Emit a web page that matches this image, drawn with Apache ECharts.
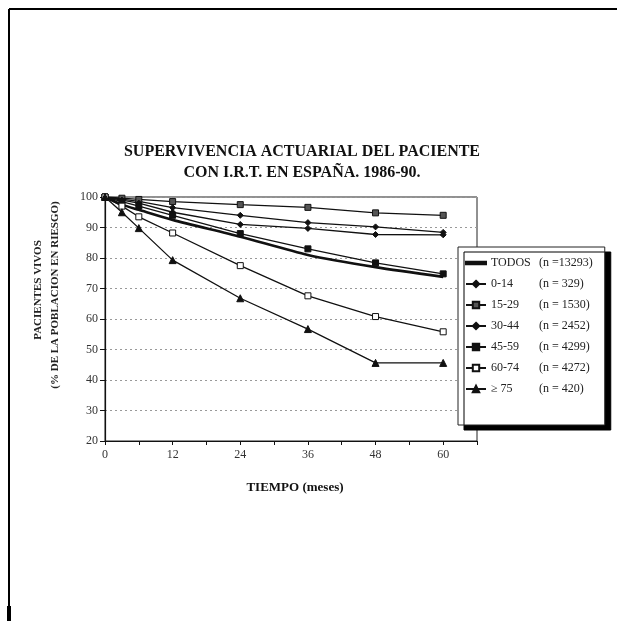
<!DOCTYPE html>
<html>
<head>
<meta charset="utf-8">
<script src="https://cdn.jsdelivr.net/npm/echarts@6/dist/echarts.min.js"></script>
<style>
html,body{margin:0;padding:0;background:#fff;}
#c{width:617px;height:621px;}
</style>
</head>
<body>
<div id="c"></div>
<script>
// ---- data ----
var months = [0, 3, 6, 12, 24, 36, 48, 60];
var todos   = [100, 97.5, 95.8, 92.5, 87.0, 81.0, 77.0, 73.8];
var g0_14   = [100, 99.3, 98.6, 96.5, 94.0, 91.6, 90.2, 88.4];
var g15_29  = [100, 99.6, 99.2, 98.5, 97.5, 96.6, 94.8, 94.0];
var g30_44  = [100, 99.0, 98.0, 95.0, 91.0, 89.7, 87.7, 87.6];
var g45_59  = [100, 98.5, 97.0, 94.0, 88.0, 83.0, 78.4, 74.8];
var g60_74  = [100, 97.0, 93.5, 88.2, 77.5, 67.6, 60.8, 55.8];
var g75     = [100, 95.0, 89.8, 79.3, 66.8, 56.7, 45.6, 45.6];
var seriesNames = ['TODOS', '0-14', '15-29', '30-44', '45-59', '60-74', '\u2265 75'];
var seriesN = ['(n =13293)', '(n = 329)', '(n = 1530)', '(n = 2452)', '(n = 4299)', '(n = 4272)', '(n = 420)'];
var xTickLabels = [0, 12, 24, 36, 48, 60];
var yMin = 20, yMax = 100, yStep = 10;
var titleLines = ['SUPERVIVENCIA ACTUARIAL DEL PACIENTE', 'CON I.R.T. EN ESPAÑA. 1986-90.'];
var yNameLines = ['PACIENTES VIVOS', '(% DE LA POBLACION EN RIESGO)'];
var xName = 'TIEMPO (meses)';

function pairs(vals){ return months.map(function(m,i){ return [m, vals[i]]; }); }

var SERIF = 'Liberation Serif, Times New Roman, serif';
var chart = echarts.init(document.getElementById('c'), null, {renderer:'canvas'});

var nMap = {};
seriesNames.forEach(function(n,i){ nMap[n] = seriesN[i]; });

function lineSeries(name, vals, symbol, fill, lw, smooth){
  return {
    name: name, type: 'line', data: pairs(vals),
    symbol: symbol, symbolSize: symbol === 'none' ? 0 : (symbol==='triangle'?7:6),
    showSymbol: symbol !== 'none',
    smooth: smooth || false,
    lineStyle: {color: '#111', width: lw},
    itemStyle: {color: fill, borderColor: '#111', borderWidth: 1},
    emphasis: {disabled: true},
    z: 3
  };
}

var legendData = seriesNames.map(function(n, i){
  return i === 0 ? {name: n, icon: 'path://M0,0H20V2.6H0Z'} : {name: n};
});

var option = {
  animation: false,
  backgroundColor: '#fff',
  title: [
    {text: titleLines[0] + '\n' + titleLines[1], left: 297, top: 136, textAlign: 'center',
     textStyle: {fontFamily: SERIF, fontSize: 16, fontWeight: 'bold', color: '#111', lineHeight: 21}}
  ],
  grid: {left: 105, right: 140, top: 197, bottom: 180, show: true, borderColor: '#222', borderWidth: 1, backgroundColor: 'transparent'},
  xAxis: {
    type: 'value', min: 0, max: 66, interval: 6,
    axisLine: {show: true, lineStyle: {color: '#111', width: 1.2}},
    axisTick: {show: true, length: 4, lineStyle: {color: '#111'}},
    axisLabel: {
      fontFamily: SERIF, fontSize: 12, color: '#333', margin: 8,
      formatter: function(v){ return xTickLabels.indexOf(v) >= 0 ? String(v) : ''; }
    },
    splitLine: {show: false},
    name: xName, nameLocation: 'middle', nameGap: 40,
    nameTextStyle: {fontFamily: SERIF, fontSize: 13, fontWeight: 'bold', color: '#111', padding: [0, 0, 0, 8]}
  },
  yAxis: {
    type: 'value', min: yMin, max: yMax, interval: yStep,
    axisLine: {show: true, lineStyle: {color: '#111', width: 1.2}},
    axisTick: {show: true, length: 5, lineStyle: {color: '#111'}},
    axisLabel: {fontFamily: SERIF, fontSize: 12, color: '#333', margin: 7},
    splitLine: {show: true, lineStyle: {color: '#999', type: [2, 3], width: 1}}
  },
  legend: {
    orient: 'vertical', left: 458, top: 247,
    padding: [10, 12, 30, 7],
    itemWidth: 20, itemHeight: 8, itemGap: 9,
    backgroundColor: '#fff', borderColor: '#222', borderWidth: 1,
    shadowColor: '#000', shadowBlur: 0, shadowOffsetX: 6, shadowOffsetY: 5,
    data: legendData,
    formatter: function(name){ return '{a|' + name + '}{b|' + nMap[name] + '}'; },
    textStyle: {
      fontFamily: SERIF, fontSize: 12, color: '#222', lineHeight: 12,
      rich: {
        a: {fontFamily: SERIF, fontSize: 12, color: '#222', width: 48},
        b: {fontFamily: SERIF, fontSize: 12, color: '#222'}
      }
    },
    selectedMode: false
  },
  series: [
    lineSeries(seriesNames[0], todos, 'none', '#111', 2.6, 0.25),
    lineSeries(seriesNames[1], g0_14, 'diamond', '#111', 1.3),
    lineSeries(seriesNames[2], g15_29, 'rect', '#555', 1.3),
    lineSeries(seriesNames[3], g30_44, 'diamond', '#111', 1.3),
    lineSeries(seriesNames[4], g45_59, 'rect', '#111', 1.3),
    lineSeries(seriesNames[5], g60_74, 'rect', '#fff', 1.3),
    lineSeries(seriesNames[6], g75, 'triangle', '#111', 1.3)
  ],
  graphic: [
    {type: 'line', shape: {x1: 9, y1: 9, x2: 617, y2: 9}, style: {stroke: '#000', lineWidth: 2}, silent: true},
    {type: 'line', shape: {x1: 9, y1: 9, x2: 9, y2: 606}, style: {stroke: '#000', lineWidth: 2}, silent: true},
    {type: 'rect', shape: {x: 7, y: 606, width: 4, height: 15}, style: {fill: '#000'}, silent: true},
    {type: 'text', x: 38, y: 290, rotation: Math.PI/2, style: {text: yNameLines[0], fontFamily: SERIF, fontSize: 11, fontWeight: 'bold', fill: '#222', align: 'center', verticalAlign: 'middle'}, silent: true},
    {type: 'text', x: 55, y: 295, rotation: Math.PI/2, style: {text: yNameLines[1], fontFamily: SERIF, fontSize: 11, fontWeight: 'bold', fill: '#222', align: 'center', verticalAlign: 'middle'}, silent: true}
  ]
};
chart.setOption(option);
</script>
</body>
</html>
